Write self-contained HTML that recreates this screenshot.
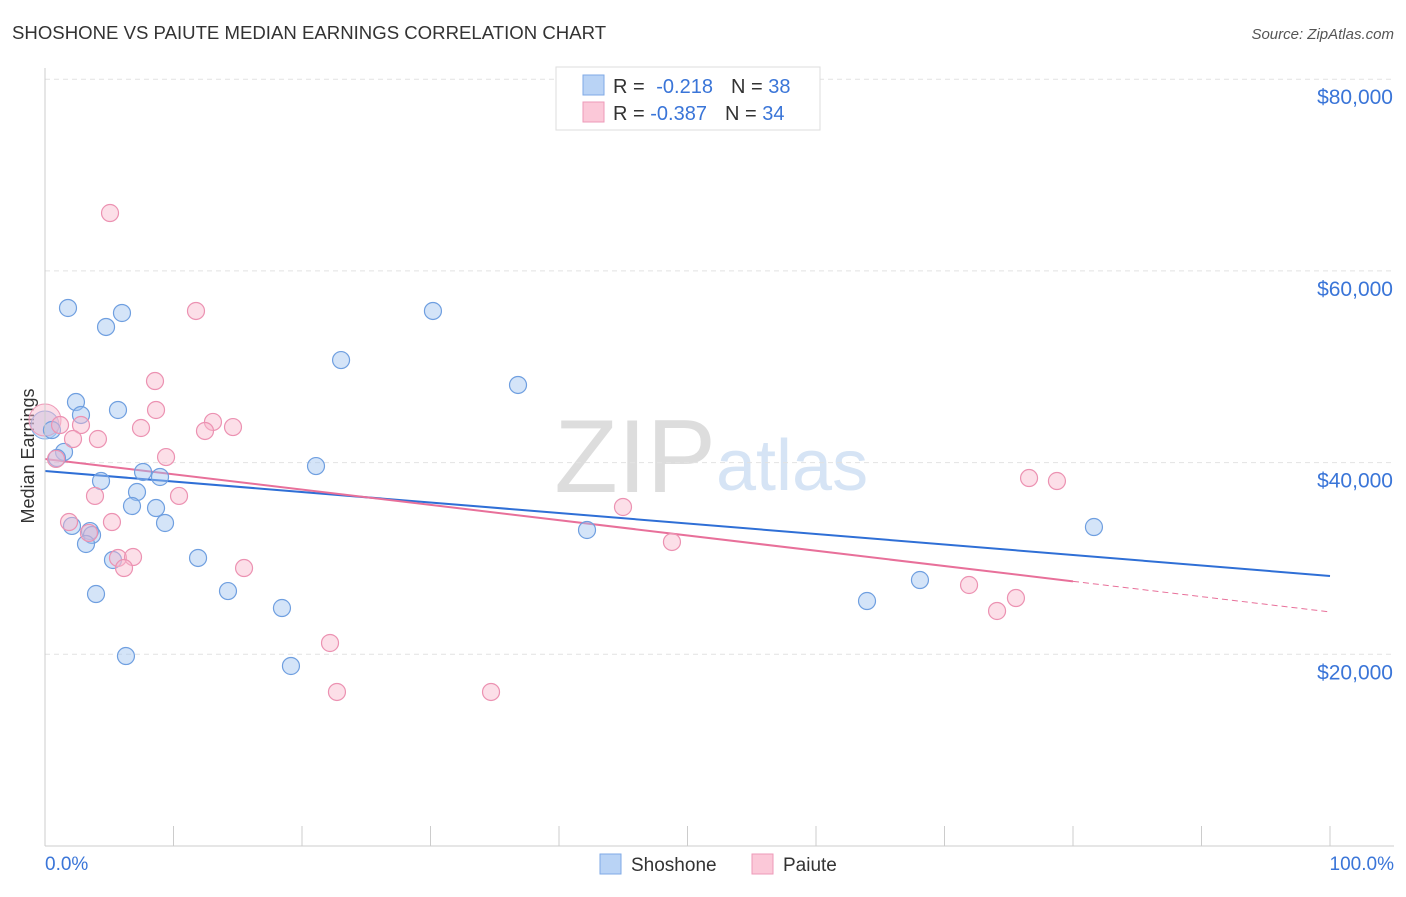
<!DOCTYPE html>
<html><head><meta charset="utf-8"><style>
body{margin:0;background:#fff;font-family:"Liberation Sans",sans-serif}
svg text{font-family:"Liberation Sans",sans-serif}
</style></head><body>
<svg id="chart" width="1406" height="892">
<text x="12" y="39" font-size="18.6" fill="#333">SHOSHONE VS PAIUTE MEDIAN EARNINGS CORRELATION CHART</text>
<text x="1394" y="39" font-size="15" fill="#555" font-style="italic" text-anchor="end">Source: ZipAtlas.com</text>
<text x="716" y="492" font-size="104" fill="#ddd" text-anchor="end" font-family="Liberation Serif">ZIP</text>
<text x="716" y="490" font-size="72" fill="#d6e4f5">atlas</text>
<text transform="translate(34,456) rotate(-90)" font-size="18" fill="#333" text-anchor="middle">Median Earnings</text>
<g id="grid"></g><g id="ticks"></g><g id="lines"></g><g id="pts"></g>
<line x1="45" y1="68" x2="45" y2="846" stroke="#ccc"/>
<line x1="45" y1="846" x2="1394" y2="846" stroke="#ccc"/>
<text x="45" y="870" font-size="19" fill="#3a75d8">0.0%</text>
<text x="1394" y="870" font-size="19" fill="#3a75d8" text-anchor="end">100.0%</text>
<g>
<rect x="556" y="67" width="264" height="63" fill="#fff" stroke="#ddd"/>
<rect x="583" y="75" width="21" height="20" fill="#b9d3f5" stroke="#7faae6"/>
<rect x="583" y="102" width="21" height="20" fill="#fbc8d8" stroke="#ee9ab8"/>
<text x="613" y="93" font-size="20" fill="#333">R = <tspan fill="#3a75d8" dx="6">-0.218</tspan><tspan dx="18" fill="#333">N = </tspan><tspan fill="#3a75d8">38</tspan></text>
<text x="613" y="120" font-size="20" fill="#333">R = <tspan fill="#3a75d8">-0.387</tspan><tspan dx="18" fill="#333">N = </tspan><tspan fill="#3a75d8">34</tspan></text>
</g>
<g>
<rect x="600" y="854" width="21" height="20" fill="#b9d3f5" stroke="#7faae6"/>
<text x="631" y="871" font-size="19" fill="#333">Shoshone</text>
<rect x="752" y="854" width="21" height="20" fill="#fbc8d8" stroke="#ee9ab8"/>
<text x="783" y="871" font-size="19" fill="#333">Paiute</text>
</g>
</svg>
<script>
const yTicks=[20000,40000,60000,80000];
const yTickLabels=["$20,000","$40,000","$60,000","$80,000"];
const xTicks=[0,10,20,30,40,50,60,70,80,90,100];
const shoX=[1.79,4.75,5.99,30.19,23.04,36.81,2.41,2.80,5.68,0.54,1.48,0.93,21.09,7.63,8.95,4.36,7.16,6.77,8.64,9.34,2.10,3.50,3.66,3.19,5.29,11.91,42.18,3.97,14.24,18.44,6.30,19.14,63.97,68.09,81.63];
const shoY=[56130,54150,55610,55820,50700,48100,46320,44970,45490,43400,41110,40480,39640,39020,38500,38080,36930,35470,35260,33700,33390,32860,32450,31510,29840,30050,32970,26290,26600,24830,19820,18780,25560,27750,33280];
const paiX=[5.06,11.75,8.56,8.64,13.07,14.63,12.45,7.47,2.80,1.17,4.12,2.18,9.42,0.86,3.89,10.43,1.87,5.21,3.42,5.68,6.85,6.15,15.49,44.98,48.79,22.18,22.72,34.71,71.91,74.09,75.56,76.58,78.75];
const paiY=[66040,55820,48510,45490,44240,43710,43300,43610,43920,43920,42460,42460,40580,40380,36520,36520,33800,33800,32660,30050,30150,29000,29000,35370,31720,21180,16070,16070,27230,24520,25870,38390,38080];
const shoTrend=[39120,28170];
const paiTrend=[40380,24420];
const paiSolidEnd=80;
const NS="http://www.w3.org/2000/svg";
const X=v=>45+v*12.85, Y=v=>846-v/104.33;
function mk(t,a,p){const e=document.createElementNS(NS,t);for(const k in a)e.setAttribute(k,a[k]);document.getElementById(p).appendChild(e);return e;}
yTicks.forEach((v,i)=>{
 const l=mk('line',{x1:45,x2:1394,y1:Y(v),y2:Y(v),stroke:'#e2e2e2','stroke-dasharray':'5,4'},'grid');
 
 
 const t=mk('text',{x:1393,y:Y(v)+25,'font-size':21,fill:'#3a75d8','text-anchor':'end'},'grid');
 t.textContent=yTickLabels[i];
 
 
});
xTicks.forEach(v=>{
 const l=mk('line',{x1:X(v),x2:X(v),y1:826,y2:846,stroke:'#ccc'},'ticks');
 
 
});
let l1=mk('line',{x1:X(0),y1:Y(shoTrend[0]),x2:X(100),y2:Y(shoTrend[1]),stroke:'#2f6fd6','stroke-width':2},'lines');


const pm=paiTrend[0]+(paiTrend[1]-paiTrend[0])*paiSolidEnd/100;
let l2=mk('line',{x1:X(0),y1:Y(paiTrend[0]),x2:X(paiSolidEnd),y2:Y(pm),stroke:'#e8709a','stroke-width':2},'lines');


let l3=mk('line',{x1:X(paiSolidEnd),y1:Y(pm),x2:X(100),y2:Y(paiTrend[1]),stroke:'#e8709a','stroke-width':1,'stroke-dasharray':'6,4'},'lines');


let b1=mk('circle',{cx:X(0),cy:Y(43920),r:14,fill:'rgba(160,195,240,0.45)',stroke:'#7faae6'},'pts');


let b2=mk('circle',{cx:X(0),cy:Y(44440),r:16,fill:'rgba(248,185,205,0.45)',stroke:'#ee9ab8'},'pts');


shoX.forEach((x,i)=>{
 const c=mk('circle',{cx:X(x),cy:Y(shoY[i]),r:8.5,fill:'rgba(160,195,240,0.45)',stroke:'#6f9fe0','stroke-width':1.2},'pts');
 
 
});
paiX.forEach((x,i)=>{
 const c=mk('circle',{cx:X(x),cy:Y(paiY[i]),r:8.5,fill:'rgba(248,185,205,0.45)',stroke:'#ec92b2','stroke-width':1.2},'pts');
 
 
});
</script>
</body></html>
